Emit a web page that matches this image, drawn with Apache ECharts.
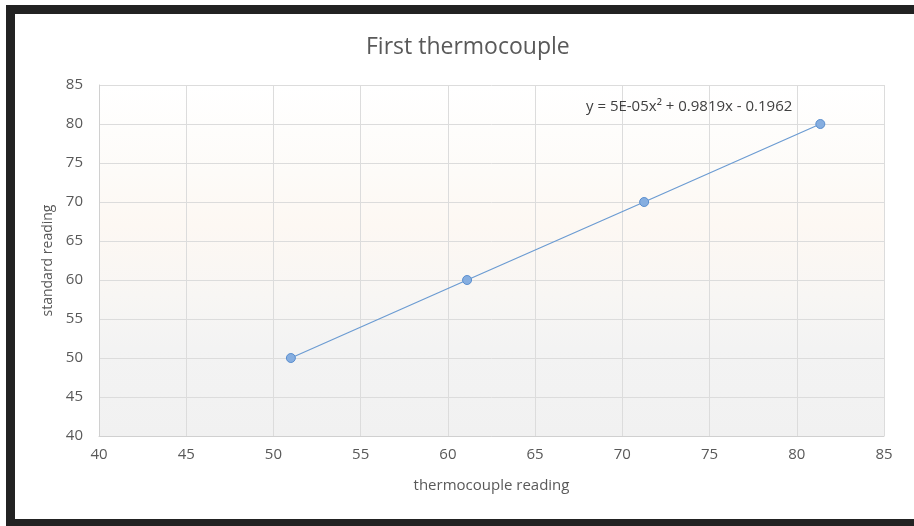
<!DOCTYPE html>
<html>
<head>
<meta charset="utf-8">
<style>
  html, body { margin: 0; padding: 0; background: #ffffff; }
  #chart { width: 914px; height: 526px; }
</style>
<script src="https://cdn.jsdelivr.net/npm/echarts@6/dist/echarts.min.js"></script>
</head>
<body>
<div id="chart"></div>
<script>
// Calibration points: thermocouple reading vs standard reading
const thermocoupleReading = [51.0, 61.1, 71.25, 81.35];
const standardReading = [50, 60, 70, 80];
const xTicks = [40, 45, 50, 55, 60, 65, 70, 75, 80, 85];
const yTicks = [40, 45, 50, 55, 60, 65, 70, 75, 80, 85];
const trendEquation = 'y = 5E-05x² + 0.9819x - 0.1962';

const points = thermocoupleReading.map((x, i) => [x, standardReading[i]]);
const textColor = '#595959';
const font = '"Open Sans", "Liberation Sans", sans-serif';

const chart = echarts.init(document.getElementById('chart'));
chart.setOption({
  animation: false,
  backgroundColor: '#ffffff',
  title: [
    {
      text: 'First thermocouple',
      left: 361,
      top: 31,
      textStyle: { color: textColor, fontFamily: font, fontSize: 23, fontWeight: 'normal' }
    },
    {
      text: trendEquation,
      left: 581,
      top: 94,
      textStyle: { color: '#404040', fontFamily: font, fontSize: 15, fontWeight: 'normal' }
    }
  ],
  graphic: [
    { type: 'rect', z: 100, shape: { x: 6, y: 5, width: 908, height: 9 }, style: { fill: '#222222' } },
    { type: 'rect', z: 100, shape: { x: 6, y: 5, width: 9, height: 521 }, style: { fill: '#222222' } },
    { type: 'rect', z: 100, shape: { x: 6, y: 519, width: 908, height: 7 }, style: { fill: '#222222' } }
  ],
  grid: {
    left: 99, right: 30, top: 85, bottom: 90,
    show: true,
    borderWidth: 0,
    backgroundColor: new echarts.graphic.LinearGradient(0, 0, 0, 1, [
      { offset: 0, color: '#ffffff' },
      { offset: 0.25, color: '#fdfbf8' },
      { offset: 0.4, color: '#fdf8f3' },
      { offset: 0.6, color: '#f8f6f4' },
      { offset: 0.75, color: '#f3f3f3' },
      { offset: 1, color: '#f1f1f1' }
    ])
  },
  xAxis: {
    type: 'value',
    min: xTicks[0],
    max: xTicks[xTicks.length - 1],
    interval: 5,
    name: 'thermocouple reading',
    nameLocation: 'middle',
    nameGap: 42,
    nameTextStyle: { color: textColor, fontFamily: font, fontSize: 15 },
    axisLine: { show: true, lineStyle: { color: '#d0d0d0' } },
    axisTick: { show: false },
    axisLabel: { color: textColor, fontFamily: font, fontSize: 15, margin: 11 },
    splitLine: { show: true, lineStyle: { color: '#dcdcdc', width: 1 } }
  },
  yAxis: {
    type: 'value',
    min: yTicks[0],
    max: yTicks[yTicks.length - 1],
    interval: 5,
    name: 'standard reading',
    nameLocation: 'middle',
    nameGap: 44,
    nameTextStyle: { color: textColor, fontFamily: font, fontSize: 14 },
    axisLine: { show: true, lineStyle: { color: '#d0d0d0' } },
    axisTick: { show: false },
    axisLabel: { color: textColor, fontFamily: font, fontSize: 15, margin: 16 },
    splitLine: { show: true, lineStyle: { color: '#dcdcdc', width: 1 } }
  },
  series: [
    {
      type: 'line',
      data: points,
      symbol: 'circle',
      symbolSize: 9,
      lineStyle: { color: '#6b9bd2', width: 1.2 },
      itemStyle: { color: '#86aee0', borderColor: '#5b8fcf', borderWidth: 1 }
    }
  ]
});
</script>
</body>
</html>
